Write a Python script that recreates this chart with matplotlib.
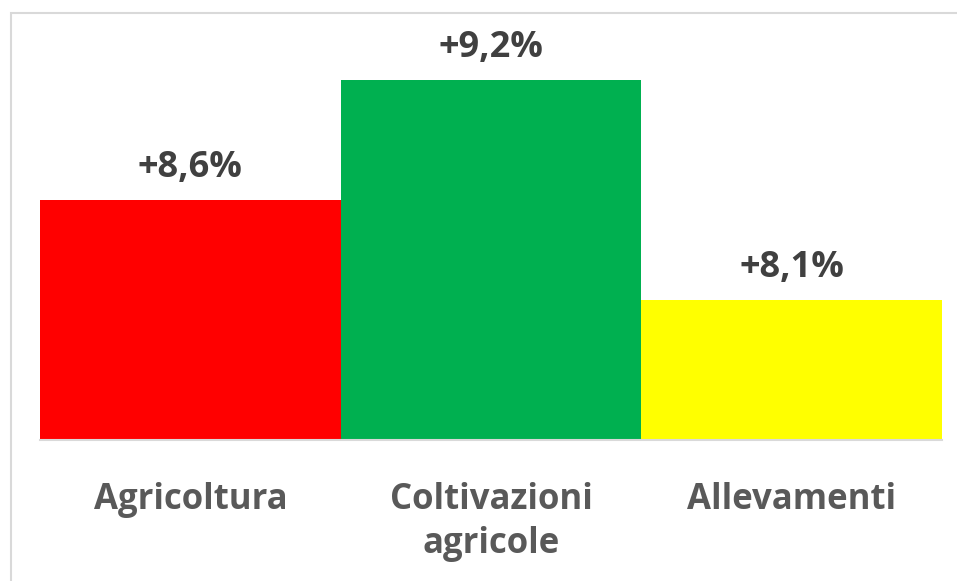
import matplotlib.pyplot as plt
from matplotlib.patches import Rectangle

categories = ["Agricoltura", "Coltivazioni\nagricole", "Allevamenti"]
values = [8.6, 9.2, 8.1]
labels = ["+8,6%", "+9,2%", "+8,1%"]
colors = ["#ff0000", "#00b050", "#ffff00"]

W, H = 957, 581
fig = plt.figure(figsize=(W / 100, H / 100), dpi=100)
fig.patch.set_facecolor("white")

# light frame around the chart area
fig.add_artist(Rectangle((11 / W, -0.05), 1.1, (H - 13) / H + 0.05,
                         transform=fig.transFigure, fill=False,
                         edgecolor="#d9d9d9", lw=1.5))

ax = fig.add_axes([40 / W, (H - 440) / H, 902 / W, 420 / H])
x = range(len(values))
ax.bar(x, values, width=1.0, color=colors, bottom=0)
ax.set_xlim(-0.5, 2.5)
ax.set_ylim(7.4, 9.5)

for xi, v, lab in zip(x, values, labels):
    ax.annotate(lab, (xi, v), xytext=(0, 10), textcoords="offset points",
                ha="center", va="bottom", fontsize=26, fontweight="bold",
                family="Open Sans", color="#404040")

ax.set_xticks(list(x))
ax.set_xticklabels(categories, fontsize=25, fontweight="bold",
                   family="Open Sans", color="#595959", linespacing=1.3,
                   va="top")
ax.tick_params(axis="x", length=0, pad=30)
ax.set_yticks([])
for s in ["top", "left", "right"]:
    ax.spines[s].set_visible(False)
ax.spines["bottom"].set_color("#d9d9d9")
ax.spines["bottom"].set_linewidth(1.5)

fig.savefig("out.png", dpi=100)
